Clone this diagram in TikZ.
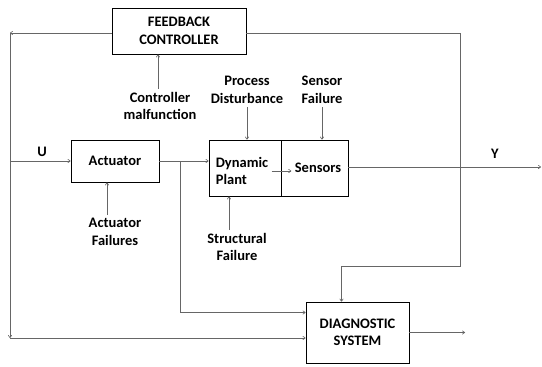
\documentclass[tikz,border=0pt]{standalone}
\usepackage{fontspec}
\setmainfont{Carlito}
\usetikzlibrary{positioning, arrows, arrows.meta}

\tikzset{
  block/.style={draw=black, line width=0.8pt, inner sep=0pt},
  lbl/.style={align=center, font=\bfseries\fontsize{14.5}{17.5}\selectfont},
  flow/.style={draw=black!60, line width=0.6pt, -{To[length=3pt,width=4pt]}},
  wire/.style={draw=black!60, line width=0.6pt}
}

\begin{document}
\begin{tikzpicture}[x=1pt, y=-1pt]
            \useasboundingbox (0,0) rectangle (542,367);

            % blocks
            \node[block, lbl, minimum width=134pt, minimum height=46pt] (fbctrl) at (179, 31) {FEEDBACK\\CONTROLLER};
            \node[block, lbl, minimum width=88pt, minimum height=42pt] (actuator) at (115, 161) {Actuator};
            \node[block, minimum width=72pt, minimum height=56pt] (plant) at (245, 168) {};
            \node[block, minimum width=67pt, minimum height=56pt] (sensors) at (314.5, 168) {};
            \node[block, lbl, minimum width=103pt, minimum height=61pt] (diag) at (357.5, 332.5) {DIAGNOSTIC\\SYSTEM};

            % texts
            \node[lbl, align=left] (plantlbl) at (242, 171) {Dynamic\\Plant};
            \node[lbl] (senslbl) at (318, 168) {Sensors};
            \node[lbl] (ctrlfault) at (160, 106) {Controller\\malfunction};
            \node[lbl] (procdist) at (247, 90) {Process\\Disturbance};
            \node[lbl] (sensfail) at (322, 90) {Sensor\\Failure};
            \node[lbl] (actfail) at (115, 232) {Actuator\\Failures};
            \node[lbl] (structfail) at (237, 247) {Structural\\Failure};
            \node[lbl] (ulabel) at (42, 152) {U};
            \node[lbl] (ylabel) at (495, 154) {Y};

            \coordinate (lefttop) at (10, 33);
            \coordinate (leftbot) at (10, 338);
            \coordinate (split) at (180, 161);
            \coordinate (rbot) at (460, 266);
            \coordinate (yout) at (541, 167);
            \coordinate (dout) at (465, 332.5);

            % signal paths
            \draw[flow] (fbctrl.west |- lefttop) -- (lefttop);
            \draw[flow] (lefttop) -- (leftbot);
            \draw[flow] (leftbot) -- (leftbot -| diag.west);
            \draw[flow] (actuator -| lefttop) -- (actuator.west);
            \draw[flow] (actuator.east) -- (actuator.east -| plant.west);
            \draw[flow] (split) |- ([yshift=20pt]diag.west);
            \draw[flow] (plantlbl.east) -- (plantlbl.east -| senslbl.west);
            \draw[flow] (sensors.east |- yout) -- (yout);
            \draw[flow] (fbctrl.east |- lefttop) -| (rbot) -| ([xshift=-16pt]diag.north);
            \draw[flow] (diag.east) -- (dout);

            % faults
            \draw[flow] ([xshift=-2pt]ctrlfault.north) -- ([xshift=-2pt]ctrlfault.north |- fbctrl.south);
            \draw[flow] (procdist.south) -- (procdist.south |- plant.north);
            \draw[flow] (sensfail.south) -- (sensfail.south |- sensors.north);
            \draw[flow] ([xshift=-8pt]actfail.north) -- ([xshift=-8pt]actfail.north |- actuator.south);
            \draw[flow] ([xshift=-8pt]structfail.north) -- ([xshift=-8pt]structfail.north |- plant.south);
        \end{tikzpicture}
\end{document}
